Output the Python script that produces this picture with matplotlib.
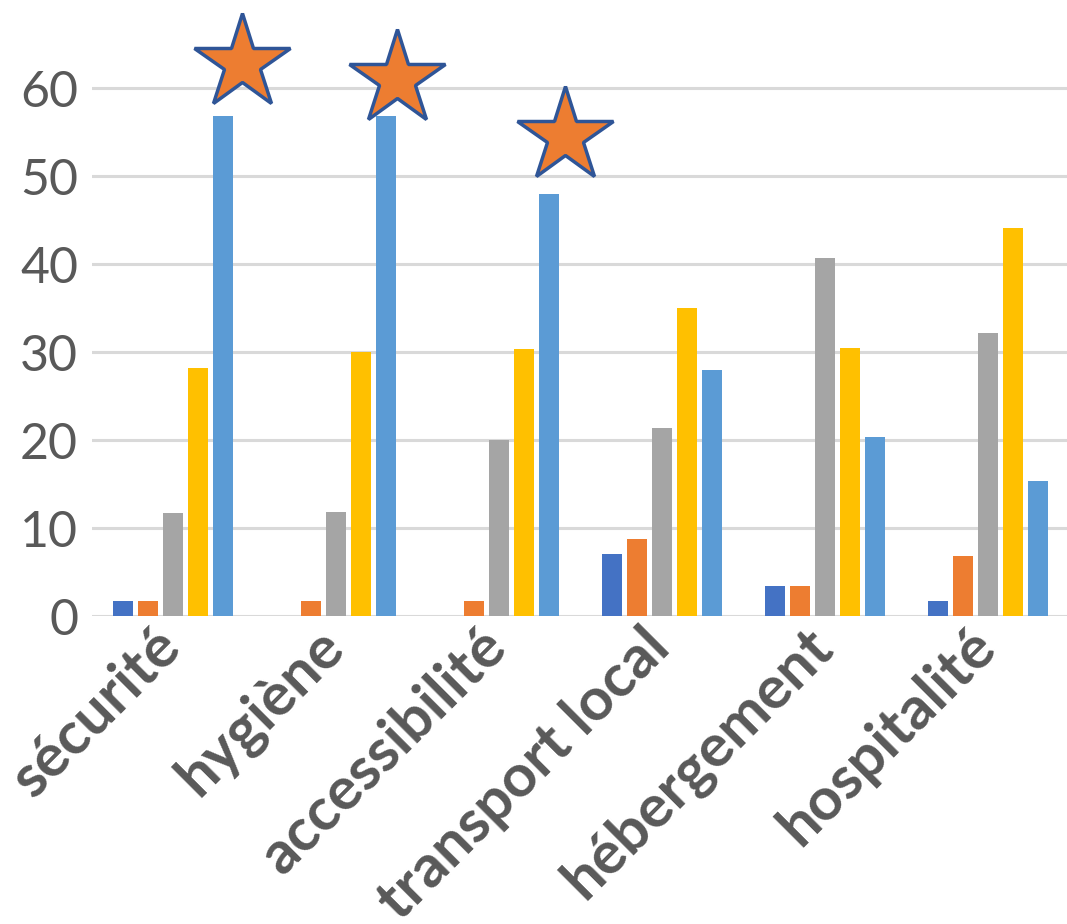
import numpy as np
import matplotlib.pyplot as plt

categories = ['sécurité', 'hygiène', 'accessibilité', 'transport local',
              'hébergement', 'hospitalité']
serie1 = [1.7, 0, 0, 7.0, 3.4, 1.7]
serie2 = [1.7, 1.7, 1.7, 8.8, 3.4, 6.8]
serie3 = [11.7, 11.8, 20.0, 21.4, 40.7, 32.2]
serie4 = [28.2, 30.0, 30.3, 35.0, 30.5, 44.1]
serie5 = [56.8, 56.8, 48.0, 28.0, 20.3, 15.3]
star_pos = [0.42, 1.37, 2.40]
star_val = [62.8, 61.0, 54.5]

colors = ['#4472C4', '#ED7D31', '#A5A5A5', '#FFC000', '#5B9BD5']
series = [serie1, serie2, serie3, serie4, serie5]

plt.rcParams['font.family'] = ['Lato', 'DejaVu Sans']
fig = plt.figure(figsize=(10.67, 9.24), dpi=100)
ax = fig.add_axes([0.0862, 0.3333, 0.9166, 0.6667])

x = np.arange(len(categories))
step = 0.1534
width = 0.1227
for i, (vals, c) in enumerate(zip(series, colors)):
    ax.bar(x + (i - 2) * step, vals, width=width, color=c, zorder=2)

ax.plot(star_pos, star_val, linestyle='none', marker='*', markersize=72,
        markerfacecolor='#ED7D31', markeredgecolor='#2F5597',
        markeredgewidth=2.5, zorder=3, clip_on=False)

ax.set_xlim(-0.5, 5.5)
ax.set_ylim(0, 70)
ax.set_yticks(range(0, 61, 10))
ax.grid(axis='y', color='#D9D9D9', linewidth=2.2, zorder=0)
for s in ax.spines.values():
    s.set_visible(False)
ax.tick_params(axis='y', length=0, pad=10, labelsize=36, labelcolor='#595959')
ax.tick_params(axis='x', length=0, pad=2)
ax.set_xticks(x - 0.13)
ax.set_xticklabels(categories, rotation=45, ha='right', va='top',
                   rotation_mode='anchor', fontsize=43, fontweight='bold',
                   color='#595959')

fig.savefig('out.png', dpi=100)
